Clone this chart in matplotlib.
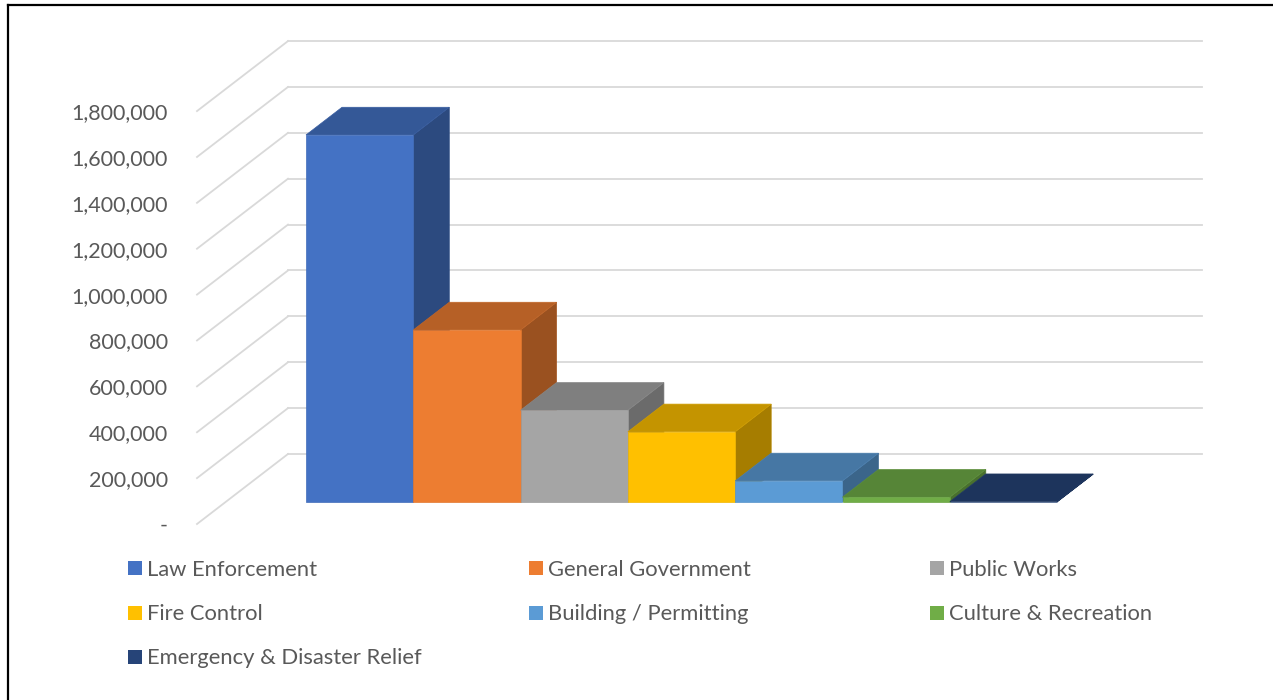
#!/usr/bin/env python3
"""
Excel-style 3D column chart of spending by department, drawn in 2D.
"""

import matplotlib
matplotlib.use("Agg")
import matplotlib.pyplot as plt
import matplotlib.colors as mcolors
from matplotlib.patches import Polygon, Rectangle
from matplotlib.lines import Line2D

categories = [
    "Law Enforcement",
    "General Government",
    "Public Works",
    "Fire Control",
    "Building / Permitting",
    "Culture & Recreation",
    "Emergency & Disaster Relief",
]
values = [1600000, 750000, 400000, 306000, 92000, 21000, 1500]
colors = ["#4472C4", "#ED7D31", "#A5A5A5", "#FFC000", "#5B9BD5", "#70AD47", "#264478"]
y_ticks = list(range(0, 1800001, 200000))
y_labels = ["-" if t == 0 else f"{t:,}" for t in y_ticks]


def shade(color, k):
    r, g, b = mcolors.to_rgb(color)
    return (r * k, g * k, b * k)


def main():
    plt.rcParams["font.family"] = ["Lato", "DejaVu Sans"]
    W, H = 1273, 700
    fig = plt.figure(figsize=(W / 100, H / 100), dpi=100)

    # pixel geometry of the oblique projection
    px_x = 107.3            # pixels per category width
    px_y = 229.4e-6         # pixels per unit of value
    ox, oy = 197, 524       # wall front-left corner (pixels)
    left_px, right_px, top_px = ox, 1215, 25

    ax = fig.add_axes([left_px / W, (H - oy) / H, (right_px - left_px) / W, (oy - top_px) / H])
    ax.set_xlim(0, (right_px - left_px) / px_x)
    ax.set_ylim(0, (oy - top_px) / px_y)

    # depth vectors in data units
    wall_dx, wall_dy = 91 / px_x, 70 / px_y
    bar_dx, bar_dy = 36 / px_x, 27.7 / px_y
    wall_right = (1202 - ox) / px_x
    bar_x0 = (306 - ox) / px_x
    bar_base = (oy - 502) / px_y

    grid_kw = dict(color="#D9D9D9", lw=1.3, zorder=1, clip_on=False)
    for t in y_ticks:
        ax.add_line(Line2D([0, wall_dx], [t, t + wall_dy], **grid_kw))
        ax.add_line(Line2D([wall_dx, wall_right], [t + wall_dy, t + wall_dy], **grid_kw))

    for i, (v, c) in enumerate(zip(values, colors)):
        xl = bar_x0 + i
        xr = xl + 1
        top = bar_base + v
        z = 5 + 3 * i
        side = Polygon([(xr, bar_base), (xr + bar_dx, bar_base + bar_dy),
                        (xr + bar_dx, top + bar_dy), (xr, top)],
                       closed=True, facecolor=shade(c, 0.65), edgecolor=shade(c, 0.7),
                       lw=0.5, zorder=z)
        lid = Polygon([(xl, top), (xr, top), (xr + bar_dx, top + bar_dy), (xl + bar_dx, top + bar_dy)],
                      closed=True, facecolor=shade(c, 0.77), edgecolor=shade(c, 0.82),
                      lw=0.5, zorder=z + 1)
        ax.add_patch(side)
        ax.add_patch(lid)
        ax.bar(xl, v, width=1, bottom=bar_base, align="edge", color=c,
               edgecolor=shade(c, 0.95), lw=0.5, zorder=z + 2)

    ax.set_yticks(y_ticks)
    ax.set_yticklabels(y_labels)
    ax.set_xticks([])
    ax.tick_params(axis="y", length=0, pad=21, labelsize=15.5, labelcolor="#595959")
    for s in ax.spines.values():
        s.set_visible(False)
    ax.patch.set_alpha(0)

    # legend laid out like Excel: three columns, row-major
    col_x = [128, 529, 930]
    row_y = [568, 612.5, 656.5]
    sq = 14
    for i, (name, c) in enumerate(zip(categories, colors)):
        x = col_x[i % 3]
        y = row_y[i // 3]
        fig.patches.append(Rectangle((x / W, (H - y - sq / 2) / H), sq / W, sq / H,
                                     transform=fig.transFigure, facecolor=c,
                                     edgecolor="none", figure=fig))
        fig.text((x + 19) / W, (H - y - 1.5) / H, name, fontsize=15.8, color="#595959",
                 va="center", ha="left")

    # chart frame (left and top edges visible in the crop)
    fig.lines.append(Line2D([8 / W, 8 / W], [0, (H - 5) / H], transform=fig.transFigure,
                            color="black", lw=1.6, figure=fig))
    fig.lines.append(Line2D([8 / W, 1], [(H - 5) / H, (H - 5) / H], transform=fig.transFigure,
                            color="black", lw=1.6, figure=fig))

    fig.savefig("out.png", dpi=100)
    plt.close(fig)


if __name__ == "__main__":
    main()
